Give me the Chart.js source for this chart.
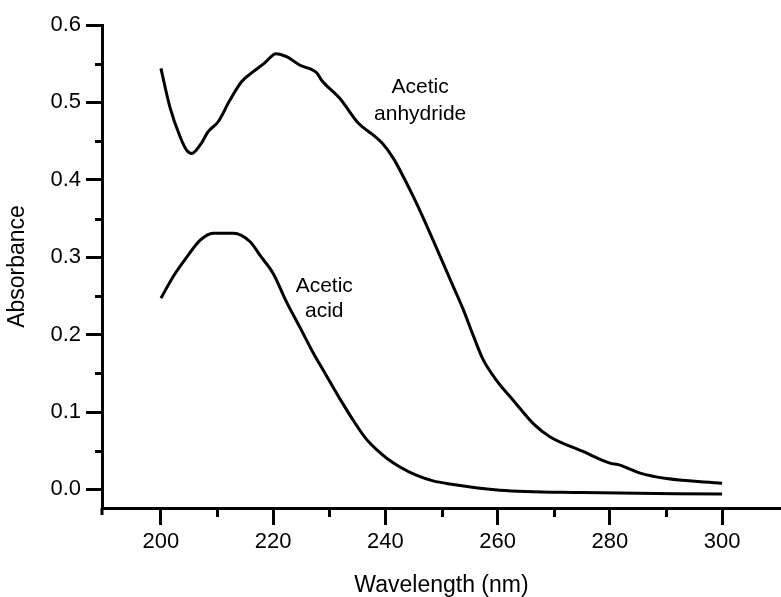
<!DOCTYPE html>
<html>
<head>
<meta charset="utf-8">
<script src="https://cdn.jsdelivr.net/npm/chart.js@4/dist/chart.umd.min.js"></script>
<style>
  html, body { margin: 0; padding: 0; background: #ffffff; }
  #wrap { width: 781px; height: 597px; }
</style>
</head>
<body>
<div id="wrap"><canvas id="c" width="781" height="597"></canvas></div>
<script>
// ---- data ----
const anhydrideWavelength = [200, 201.6, 203.4, 204.6, 205.5, 207.0, 208.4, 210.2, 212.3, 214.4, 216.5, 218.5, 220.5, 222.4, 224.8, 227.8, 228.6, 231.9, 235.2, 237.8, 239.5, 241.4, 243.2, 245.0, 246.8, 248.5, 250.3, 252.1, 253.9, 255.7, 257.4, 259.8, 262.8, 266.5, 269.3, 275.2, 280.0, 281.5, 283.0, 285.4, 290.1, 300];
const anhydrideAbsorbance = [0.544, 0.494, 0.456, 0.438, 0.434, 0.445, 0.462, 0.475, 0.503, 0.527, 0.540, 0.551, 0.563, 0.559, 0.548, 0.538, 0.529, 0.505, 0.473, 0.458, 0.447, 0.428, 0.404, 0.378, 0.350, 0.322, 0.292, 0.262, 0.232, 0.198, 0.168, 0.141, 0.115, 0.084, 0.068, 0.049, 0.034, 0.032, 0.028, 0.021, 0.014, 0.008];

const acidWavelength = [200, 202.2, 204.6, 207.0, 209.3, 212.9, 215.9, 217.6, 220.0, 222.4, 224.8, 227.1, 229.5, 231.9, 234.3, 236.5, 238.5, 240.3, 242.6, 245.6, 248.5, 251.5, 260.4, 275.2, 300];
const acidAbsorbance = [0.247, 0.275, 0.300, 0.322, 0.331, 0.331, 0.320, 0.303, 0.279, 0.242, 0.209, 0.177, 0.147, 0.117, 0.089, 0.066, 0.051, 0.040, 0.029, 0.018, 0.011, 0.007, -0.001, -0.004, -0.006];

const xMajorTicks = [200, 220, 240, 260, 280, 300];
const xMinorTicks = [210, 230, 250, 270, 290];
const yMajorTicks = [0.0, 0.1, 0.2, 0.3, 0.4, 0.5, 0.6];
const yMinorTicks = [0.05, 0.15, 0.25, 0.35, 0.45, 0.55];

const seriesLabels = ['Acetic anhydride', 'Acetic acid'];
const xTitle = 'Wavelength (nm)';
const yTitle = 'Absorbance';

// annotation text (anchored in data coordinates)
const annotations = [
  { lines: ['Acetic', 'anhydride'], x: 246.2, y: [0.519, 0.485] },
  { lines: ['Acetic', 'acid'], x: 229.1, y: [0.262, 0.230] }
];

const FONT = "'Liberation Sans', Arial, Helvetica, sans-serif";

function toPoints(xs, ys) { return xs.map((x, i) => ({ x: x, y: ys[i] })); }

const extrasPlugin = {
  id: 'extras',
  afterDraw(chart) {
    const ctx = chart.ctx;
    const xs = chart.scales.x, ys = chart.scales.y;
    const area = chart.chartArea;
    ctx.save();
    ctx.strokeStyle = '#000';
    ctx.lineWidth = 3;
    ctx.lineCap = 'butt';
    // minor x ticks
    xMinorTicks.forEach(v => {
      const px = Math.round(xs.getPixelForValue(v)) + 0.5;
      ctx.beginPath();
      ctx.moveTo(px, area.bottom);
      ctx.lineTo(px, area.bottom + 9);
      ctx.stroke();
    });
    // minor y ticks
    yMinorTicks.forEach(v => {
      const py = Math.round(ys.getPixelForValue(v)) + 0.5;
      ctx.beginPath();
      ctx.moveTo(area.left - 7, py);
      ctx.lineTo(area.left, py);
      ctx.stroke();
    });
    // y-axis extension below the x axis
    ctx.beginPath();
    ctx.moveTo(area.left, area.bottom);
    ctx.lineTo(area.left, area.bottom + 7);
    ctx.stroke();
    // annotations
    ctx.fillStyle = '#000';
    ctx.font = '21px ' + FONT;
    ctx.textAlign = 'center';
    ctx.textBaseline = 'middle';
    annotations.forEach(a => {
      a.lines.forEach((t, i) => {
        ctx.fillText(t, xs.getPixelForValue(a.x), ys.getPixelForValue(a.y[i]));
      });
    });
    ctx.restore();
  }
};

new Chart(document.getElementById('c'), {
  type: 'line',
  data: {
    datasets: [
      {
        label: seriesLabels[0],
        data: toPoints(anhydrideWavelength, anhydrideAbsorbance),
        borderColor: '#000',
        borderWidth: 3,
        pointRadius: 0,
        fill: false,
        cubicInterpolationMode: 'monotone'
      },
      {
        label: seriesLabels[1],
        data: toPoints(acidWavelength, acidAbsorbance),
        borderColor: '#000',
        borderWidth: 3,
        pointRadius: 0,
        fill: false,
        cubicInterpolationMode: 'monotone'
      }
    ]
  },
  options: {
    responsive: false,
    animation: false,
    devicePixelRatio: 1,
    layout: { padding: { top: 25, right: 0, left: 0, bottom: 0 } },
    plugins: {
      legend: { display: false },
      tooltip: { enabled: false },
      title: { display: false }
    },
    scales: {
      x: {
        type: 'linear',
        min: 189.5,
        max: 310.5,
        afterBuildTicks: (axis) => { axis.ticks = xMajorTicks.map(v => ({ value: v })); },
        afterFit: (axis) => { axis.height = 89; },
        grid: {
          drawOnChartArea: false,
          drawTicks: true,
          tickLength: 17,
          tickWidth: 3,
          tickColor: '#000'
        },
        border: { display: true, color: '#000', width: 3 },
        ticks: {
          color: '#000',
          padding: 4,
          maxRotation: 0,
          autoSkip: false,
          font: { family: FONT, size: 22 },
          callback: (v) => String(v)
        },
        title: {
          display: true,
          text: xTitle,
          color: '#000',
          font: { family: FONT, size: 23, lineHeight: 1 },
          padding: { top: 0, bottom: 0 }
        }
      },
      y: {
        type: 'linear',
        min: -0.024,
        max: 0.6,
        afterBuildTicks: (axis) => { axis.ticks = yMajorTicks.map(v => ({ value: v })); },
        afterFit: (axis) => { axis.width = 102; },
        grid: {
          drawOnChartArea: false,
          drawTicks: true,
          tickLength: 16,
          tickWidth: 3,
          tickColor: '#000'
        },
        border: { display: true, color: '#000', width: 3 },
        ticks: {
          color: '#000',
          padding: 5,
          autoSkip: false,
          font: { family: FONT, size: 22 },
          callback: (v) => Number(v).toFixed(1)
        },
        title: {
          display: true,
          text: yTitle,
          color: '#000',
          font: { family: FONT, size: 23, lineHeight: 1 },
          padding: { top: 6, bottom: 0 }
        }
      }
    }
  },
  plugins: [extrasPlugin]
});
</script>
</body>
</html>
